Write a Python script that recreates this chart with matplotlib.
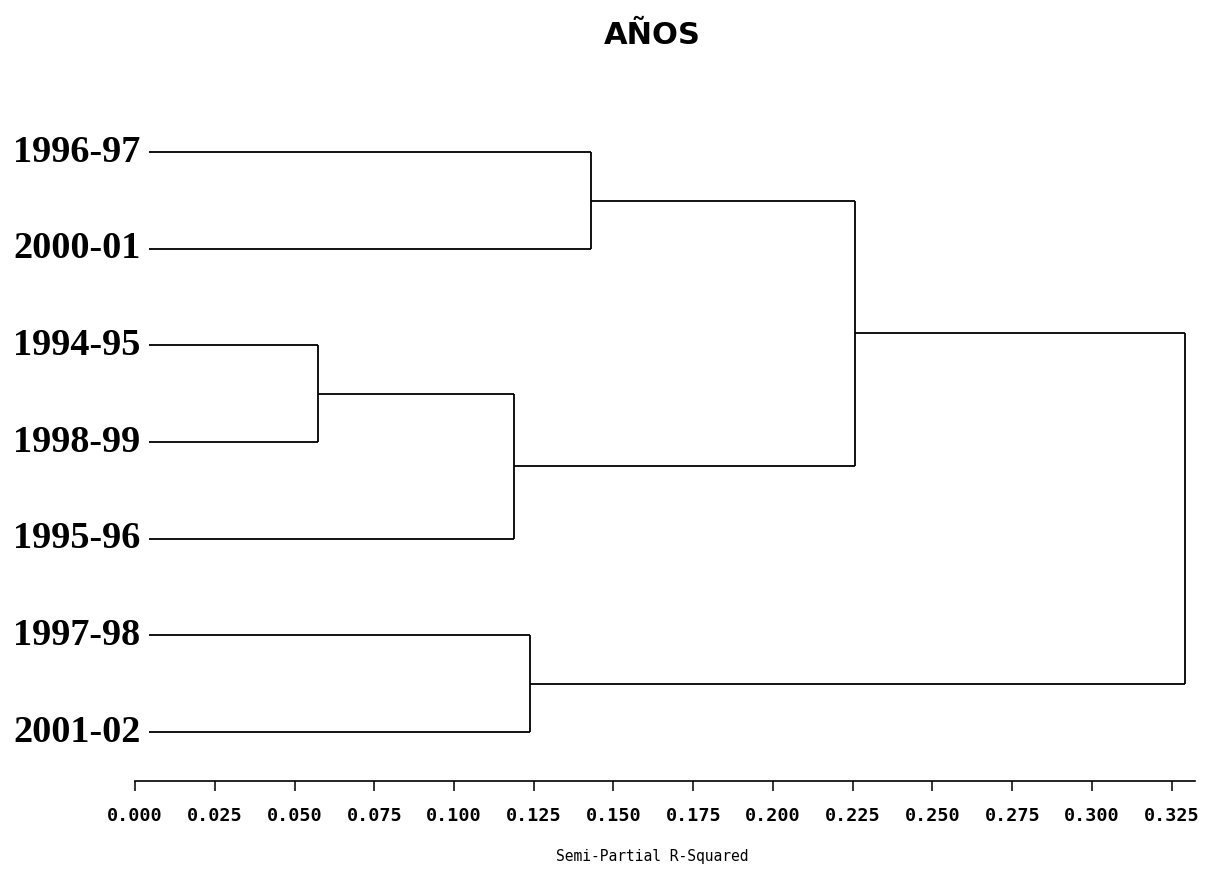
import matplotlib
matplotlib.use("Agg")
import matplotlib.pyplot as plt
import matplotlib.transforms as mtransforms

# Data
leaves = ['1996-97', '2000-01', '1994-95', '1998-99', '1995-96', '1997-98', '2001-02']
# merges: new cluster id = len(leaves) + index
merge_left = [2, 7, 5, 0, 10, 11]
merge_right = [3, 4, 6, 1, 8, 9]
merge_height = [0.0574, 0.1188, 0.1238, 0.143, 0.2257, 0.329]
xticks = [0.000, 0.025, 0.050, 0.075, 0.100, 0.125, 0.150, 0.175, 0.200,
          0.225, 0.250, 0.275, 0.300, 0.325]

fig = plt.figure(figsize=(12.21, 8.69), dpi=100)
W, H = 1221, 869
ax = fig.add_axes([135 / W, 1 - 781 / H, (1195 - 135) / W, (781 - 100) / H])

n = len(leaves)
pos = {i: float(n - 1 - i) for i in range(n)}
xpos = {i: 0.0 for i in range(n)}
leaf_start = 0.0045
lc = 'black'
lw = 1.3
for k, (a, b, h) in enumerate(zip(merge_left, merge_right, merge_height)):
    for c in (a, b):
        x0 = xpos[c] if c >= n else leaf_start
        ax.plot([x0, h], [pos[c], pos[c]], color=lc, lw=lw, solid_capstyle='butt')
    ax.plot([h, h], [pos[a], pos[b]], color=lc, lw=lw, solid_capstyle='butt')
    cid = n + k
    pos[cid] = (pos[a] + pos[b]) / 2
    xpos[cid] = h

ax.set_xlim(0, (1195 - 135) / 3190)
ax.set_ylim(-0.507, 6.54)
for s in ('top', 'right', 'left'):
    ax.spines[s].set_visible(False)
ax.spines['bottom'].set_linewidth(1.2)
ax.set_yticks([])
ax.set_xticks(xticks)
ax.set_xticklabels([f"{t:.3f}" for t in xticks], family='DejaVu Sans Mono',
                   fontsize=13.2, fontweight='bold')
ax.tick_params(axis='x', direction='out', length=7.5, width=1.1, pad=11.5)

trans = mtransforms.blended_transform_factory(fig.transFigure, ax.transData)
for i, lab in enumerate(leaves):
    ax.text(13 / W, pos[i], lab, transform=trans, ha='left', va='center',
            family='Liberation Serif', fontweight='bold', fontsize=27.5)

fig.text(652 / W, 1 - 36 / H, 'AÑOS', ha='center', va='center',
         fontsize=22, fontweight='bold', family='DejaVu Sans')
fig.text(652 / W, 1 - 857 / H, 'Semi-Partial R-Squared', ha='center', va='center',
         fontsize=10.5, family='DejaVu Sans Mono')

fig.savefig('out.png', dpi=100)
